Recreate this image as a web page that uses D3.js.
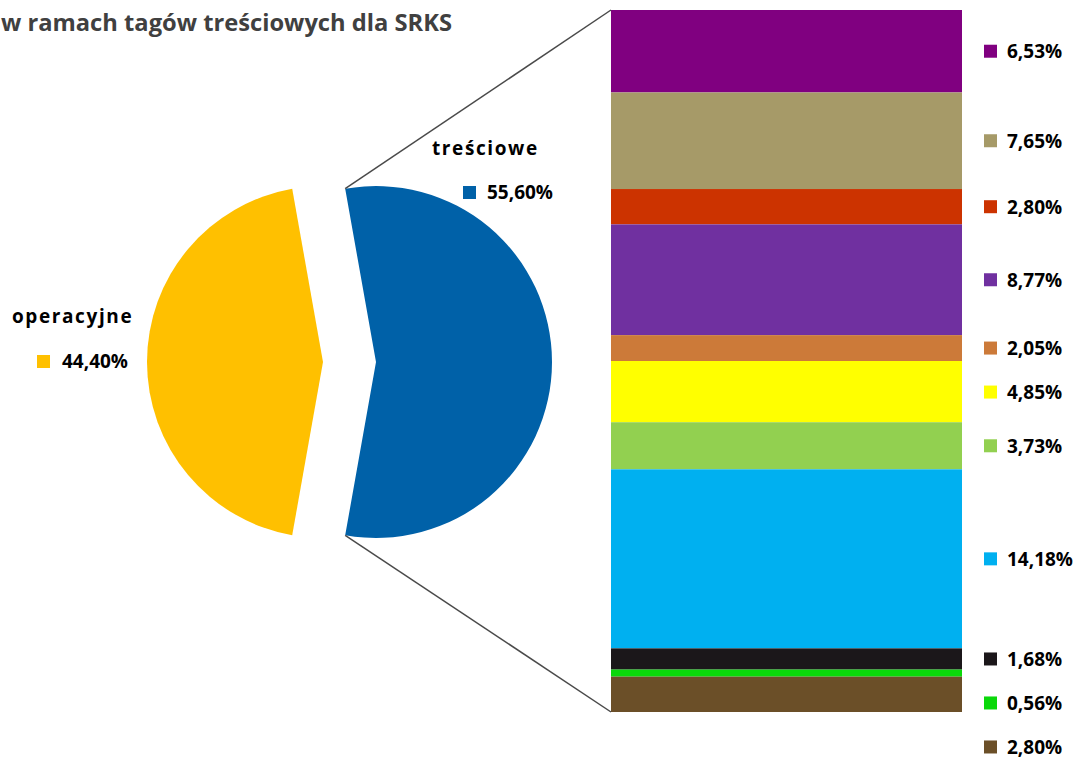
<!DOCTYPE html>
<html>
<head>
<meta charset="utf-8">
<script src="https://cdn.jsdelivr.net/npm/d3@7"></script>
<style>
  html, body { margin: 0; padding: 0; background: #ffffff; }
  svg { display: block; }
  text { font-family: "Open Sans", "DejaVu Sans", sans-serif; font-weight: bold; }
</style>
</head>
<body>
<svg id="chart" width="1078" height="760"></svg>
<script>
// ---- data ----
const titleLines = ["w ramach tagów treściowych dla SRKS"];
const mainCategories = ["treściowe", "operacyjne"];
const mainValues = [55.60, 44.40];
const mainColors = ["#0061a8", "#ffc000"];
const subValues = [6.53, 7.65, 2.80, 8.77, 2.05, 4.85, 3.73, 14.18, 1.68, 0.56, 2.80];
const subColors = ["#800080", "#a69a68", "#cc3300", "#7030a0", "#cc7a39", "#ffff00",
                   "#92d050", "#00b0f0", "#1b171a", "#0ad80a", "#6b4f28"];

// ---- layout ----
const svg = d3.select("#chart");
const fmt = v => d3.format(".2f")(v).replace(".", ",") + "%";

// title
svg.append("text")
  .attr("x", 1).attr("y", 31)
  .attr("fill", "#404040")
  .attr("font-size", 24)
  .attr("textLength", 451)
  .attr("lengthAdjust", "spacingAndGlyphs")
  .text(titleLines[0]);

// ---- pie ----
const cx = 349.5, cy = 362, R = 176, explode = 26.5;
const total = d3.sum(mainValues);
const st = Math.PI / 2 - Math.PI * mainValues[0] / total;
const pie = d3.pie().sort(null).value(d => d).startAngle(st).endAngle(st + 2 * Math.PI);
const arcs = pie(mainValues);
const arc = d3.arc().innerRadius(0).outerRadius(R);

const slices = arcs.map(a => {
  const mid = (a.startAngle + a.endAngle) / 2;
  return { a, ox: cx + explode * Math.sin(mid), oy: cy - explode * Math.cos(mid) };
});

svg.append("g").selectAll("path")
  .data(slices)
  .join("path")
  .attr("transform", d => `translate(${d.ox},${d.oy})`)
  .attr("d", d => arc(d.a))
  .attr("fill", (d, i) => mainColors[i]);

// ---- stacked bar ----
const subTotal = d3.sum(subValues);
const x0 = 611, x1 = 962;
const y = d3.scaleLinear().domain([0, subTotal]).range([10, 712]);
const cum = [];
subValues.reduce((acc, v) => { cum.push([acc, acc + v]); return acc + v; }, 0);

svg.append("g").selectAll("rect")
  .data(subValues)
  .join("rect")
  .attr("x", x0)
  .attr("width", x1 - x0)
  .attr("y", (d, i) => y(cum[i][0]))
  .attr("height", (d, i) => y(cum[i][1]) - y(cum[i][0]))
  .attr("fill", (d, i) => subColors[i]);

// ---- connector lines ----
const blue = slices[0];
const pA = [blue.ox + R * Math.sin(blue.a.startAngle), blue.oy - R * Math.cos(blue.a.startAngle)];
const pB = [blue.ox + R * Math.sin(blue.a.endAngle), blue.oy - R * Math.cos(blue.a.endAngle)];
svg.append("line")
  .attr("x1", pA[0]).attr("y1", pA[1]).attr("x2", x0).attr("y2", y(0))
  .attr("stroke", "#4a4a4a").attr("stroke-width", 1.5);
svg.append("line")
  .attr("x1", pB[0]).attr("y1", pB[1]).attr("x2", x0).attr("y2", y(subTotal))
  .attr("stroke", "#4a4a4a").attr("stroke-width", 1.5);

// ---- pie labels ----
const pieLabelPos = [
  { nameX: 432, nameY: 155, sqX: 463, sqY: 186, valX: 487, valY: 199 },
  { nameX: 12, nameY: 323, sqX: 37, sqY: 355, valX: 62, valY: 368 }
];
const pl = svg.append("g").selectAll("g")
  .data(mainValues)
  .join("g");
pl.append("text")
  .attr("x", (d, i) => pieLabelPos[i].nameX)
  .attr("y", (d, i) => pieLabelPos[i].nameY)
  .attr("font-size", 19)
  .attr("letter-spacing", 1.6)
  .attr("fill", "#000")
  .text((d, i) => mainCategories[i]);
pl.append("rect")
  .attr("x", (d, i) => pieLabelPos[i].sqX)
  .attr("y", (d, i) => pieLabelPos[i].sqY)
  .attr("width", 13).attr("height", 13)
  .attr("fill", (d, i) => mainColors[i]);
pl.append("text")
  .attr("x", (d, i) => pieLabelPos[i].valX)
  .attr("y", (d, i) => pieLabelPos[i].valY)
  .attr("font-size", 19)
  .attr("fill", "#000")
  .text(d => fmt(d));

// ---- bar labels (centred on segment, pushed down to avoid overlap) ----
const minGap = 44;
const labelY = [];
cum.forEach((c, i) => {
  let yy = (y(c[0]) + y(c[1])) / 2;
  if (i > 0 && yy < labelY[i - 1] + minGap) yy = labelY[i - 1] + minGap;
  labelY.push(yy);
});
const bl = svg.append("g").selectAll("g")
  .data(subValues)
  .join("g")
  .attr("transform", (d, i) => `translate(984,${labelY[i]})`);
bl.append("rect")
  .attr("x", 0).attr("y", -6.5)
  .attr("width", 13).attr("height", 13)
  .attr("fill", (d, i) => subColors[i]);
bl.append("text")
  .attr("x", 23).attr("y", 7)
  .attr("font-size", 19)
  .attr("fill", "#000")
  .text(d => fmt(d));
</script>
</body>
</html>
